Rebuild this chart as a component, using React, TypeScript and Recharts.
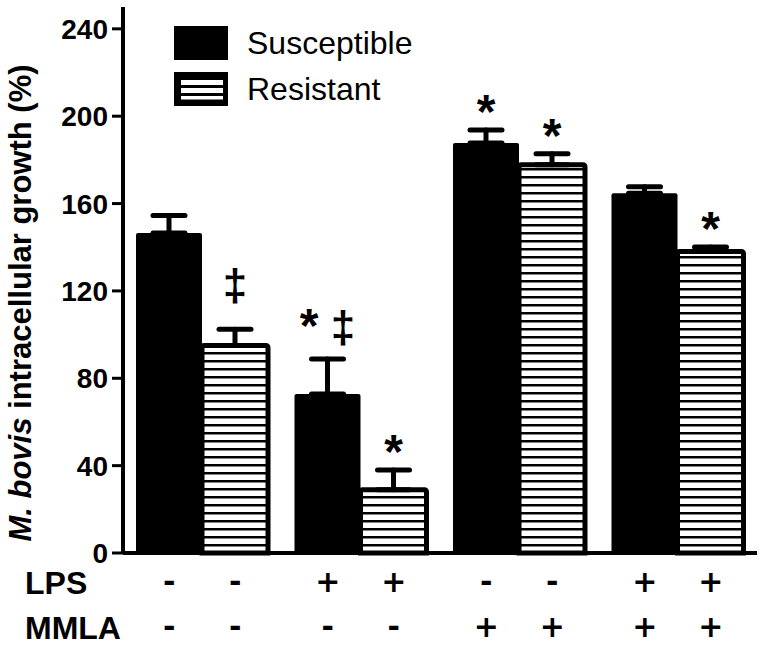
import { BarChart, Bar, XAxis, YAxis, ErrorBar, LabelList, Legend } from 'recharts';

const FONT = "'Liberation Sans', Arial, sans-serif";
const SIGN_FONT = "'DejaVu Sans', 'Liberation Sans', sans-serif";

const groups = ['Control', 'LPS', 'MMLA', 'LPS + MMLA'];
const seriesNames = ['Susceptible', 'Resistant'];
const susceptible = [146.5, 72.8, 187.7, 164.7];
const resistant = [95, 29, 177.8, 138.1];
const susceptibleErr = [8, 16, 6, 3];
const resistantErr = [7.5, 9, 5, 2];
const susceptibleMarks = ['', '* ‡', '*', ''];
const resistantMarks = ['‡', '*', '*', '*'];
const lpsSigns = [['-', '-'], ['+', '+'], ['-', '-'], ['+', '+']];
const mmlaSigns = [['-', '-'], ['-', '-'], ['+', '+'], ['+', '+']];
const yTicks = [0, 40, 80, 120, 160, 200, 240];

const data = groups.map((g, i) => ({
  group: g,
  susceptible: susceptible[i],
  resistant: resistant[i],
  susceptibleErr: [0, susceptibleErr[i]],
  resistantErr: [0, resistantErr[i]],
}));

const BAR = 66;

function SignTick(props: any) {
  const { x, y, payload } = props;
  const i = payload.index;
  const off = BAR / 2;
  return (
    <g fill="#000">
      {i === 0 && (
        <g fontFamily={FONT} fontSize={32} fontWeight="bold">
          <text x={25} y={y + 39}>LPS</text>
          <text x={25} y={y + 84}>MMLA</text>
        </g>
      )}
      <g fontFamily={SIGN_FONT} fontSize={30} fontWeight="bold" textAnchor="middle" dominantBaseline="central">
        <text x={x - off} y={y + 26}>{lpsSigns[i][0]}</text>
        <text x={x + off} y={y + 26}>{lpsSigns[i][1]}</text>
        <text x={x - off} y={y + 71}>{mmlaSigns[i][0]}</text>
        <text x={x + off} y={y + 71}>{mmlaSigns[i][1]}</text>
      </g>
    </g>
  );
}

function Marks(props: any, marks: string[], errs: number[]) {
  const { x, y, width, height, value, index } = props;
  const mark = marks[index];
  if (!mark) return null;
  const capY = y - (errs[index] * height) / value;
  const hasDagger = mark.includes('‡');
  const hasStar = mark.includes('*');
  const base = hasDagger ? (hasStar ? capY - 17 : capY - 29) : capY - 2;
  return (
    <text x={x + width / 2} y={base} textAnchor="middle" fontFamily={FONT} fontWeight="bold" fill="#000" xmlSpace="preserve">
      {mark.split('').map((ch, k) => (
        <tspan key={k} fontSize={ch === '*' ? 48 : 44}>{ch}</tspan>
      ))}
    </text>
  );
}

function YLabel() {
  const cx = 31;
  const cy = 303;
  return (
    <text
      x={cx}
      y={cy}
      transform={`rotate(-90, ${cx}, ${cy})`}
      textAnchor="middle"
      fontFamily={FONT}
      fontSize={31}
      fontWeight="bold"
      fill="#000"
    >
      <tspan fontStyle="italic">M. bovis</tspan> intracellular growth (%)
    </text>
  );
}

function LegendBox() {
  return (
    <svg width={260} height={90} style={{ display: 'block' }}>
      {seriesNames.map((name, i) => (
        <g key={name} transform={`translate(0, ${i * 46})`}>
          <rect x={0} y={0} width={54} height={34} fill="#000" />
          {i === 1 && (
            <>
              <rect x={7} y={8} width={42} height={5} fill="#fff" />
              <rect x={7} y={16} width={42} height={5} fill="#fff" />
              <rect x={7} y={24} width={42} height={3.5} fill="#fff" />
            </>
          )}
          <text x={73} y={28} fontFamily={FONT} fontSize={32} fill="#000">{name}</text>
        </g>
      ))}
    </svg>
  );
}

export default function App() {
  return (
    <div style={{ position: 'absolute', left: 0, top: 0, width: 764, height: 645, background: '#fff' }}>
      <BarChart
        width={764}
        height={645}
        data={data}
        margin={{ top: 7, right: 7, left: 0, bottom: 0 }}
        barGap={0}
        barSize={BAR}
      >
        <defs>
          <pattern id="stripes" patternUnits="userSpaceOnUse" width={8} height={8}>
            <rect x={0} y={0} width={8} height={8} fill="#fff" />
            <rect x={0} y={0} width={8} height={2.5} fill="#000" />
          </pattern>
        </defs>
        <XAxis
          dataKey="group"
          height={92}
          interval={0}
          tickLine={false}
          tickSize={0}
          axisLine={{ stroke: '#000', strokeWidth: 4 }}
          tick={<SignTick />}
        />
        <YAxis
          width={123}
          domain={[0, 250]}
          ticks={yTicks}
          interval={0}
          tickSize={11}
          tickMargin={4}
          tickLine={{ stroke: '#000', strokeWidth: 3 }}
          axisLine={{ stroke: '#000', strokeWidth: 4 }}
          tick={{ fill: '#000', fontSize: 28, fontWeight: 'bold', fontFamily: FONT }}
          label={{ content: () => <YLabel /> }}
        />
        <Legend
          layout="horizontal"
          verticalAlign="middle"
          align="center"
          content={<LegendBox />}
          wrapperStyle={{ left: 174, top: 26, width: 260 }}
        />
        <Bar dataKey="susceptible" name={seriesNames[0]} fill="#000" radius={[2, 2, 0, 0]} isAnimationActive={false}>
          <ErrorBar dataKey="susceptibleErr" direction="y" width={16} stroke="#000" strokeWidth={5} strokeLinecap="round" isAnimationActive={false} />
          <LabelList dataKey="susceptible" content={(p: any) => Marks(p, susceptibleMarks, susceptibleErr)} />
        </Bar>
        <Bar dataKey="resistant" name={seriesNames[1]} fill="url(#stripes)" stroke="#000" strokeWidth={5} radius={[2, 2, 0, 0]} isAnimationActive={false}>
          <ErrorBar dataKey="resistantErr" direction="y" width={16} stroke="#000" strokeWidth={5} strokeLinecap="round" isAnimationActive={false} />
          <LabelList dataKey="resistant" content={(p: any) => Marks(p, resistantMarks, resistantErr)} />
        </Bar>
      </BarChart>
    </div>
  );
}
